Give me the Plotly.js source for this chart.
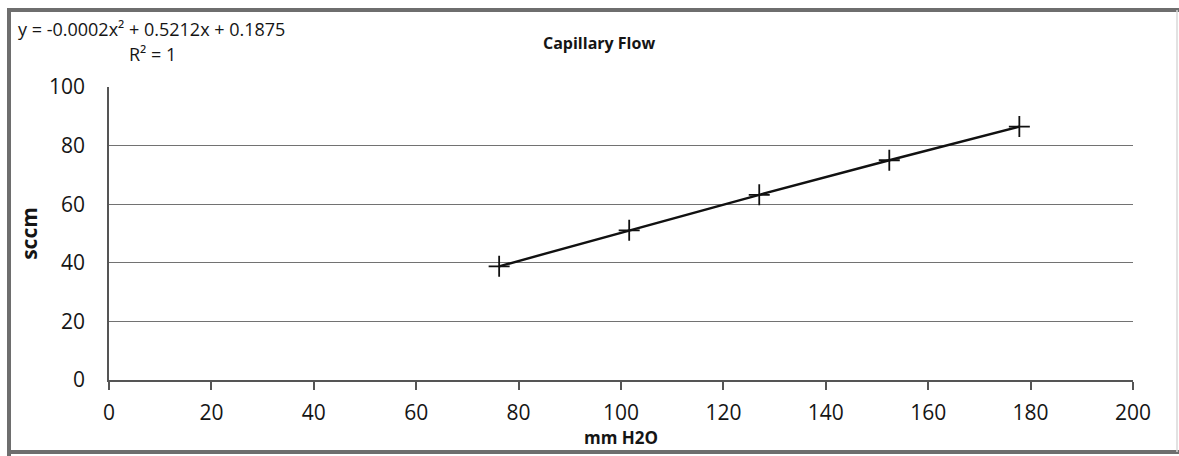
<!DOCTYPE html>
<html>
<head>
<meta charset="utf-8">
<script src="https://cdn.plot.ly/plotly-3.0.1.min.js"></script>
<style>html,body{margin:0;padding:0;background:#fff;}#chart{width:1179px;height:456px;}</style>
</head>
<body>
<div id="chart"></div>
<script>
// Data (mm H2O vs sccm)
const pressureMmH2O = [76.2, 101.6, 127.0, 152.4, 177.8];
const flowSccm = [38.8, 51.1, 63.2, 75.0, 86.5];
const xTickValues = [0, 20, 40, 60, 80, 100, 120, 140, 160, 180, 200];
const yTickValues = [0, 20, 40, 60, 80, 100];
const chartTitle = "Capillary Flow";
const xTitle = "mm H2O";
const yTitle = "sccm";
const equationText = "y = -0.0002x² + 0.5212x + 0.1875";
const rSquaredText = "R² = 1";

const W = 1179, H = 456;
const L = 109, R = 1133, T = 87, B = 380;
const px = v => (v - L) / (R - L);
const py = v => (B - v) / (B - T);

const font = "'Open Sans', 'Noto Sans', sans-serif";
const txt = "#151515";

const trace = {
  x: pressureMmH2O,
  y: flowSccm,
  type: "scatter",
  mode: "lines+markers",
  line: {color: "#111", width: 2.4},
  marker: {symbol: "cross-thin", size: 15, color: "#111", line: {color: "#111", width: 1.8}},
  hoverinfo: "x+y",
  showlegend: false
};

const frameColor = "#6e6e6e";
const layout = {
  width: W, height: H,
  margin: {l: L, r: W - R, t: T, b: H - B, pad: 0},
  paper_bgcolor: "#fff",
  plot_bgcolor: "#fff",
  font: {family: font, color: txt},
  showlegend: false,
  xaxis: {
    range: [0, 200],
    tickvals: xTickValues,
    ticks: "outside", ticklen: 8, tickwidth: 1.5, tickcolor: "#555",
    showline: true, linecolor: "#555", linewidth: 1.5,
    showgrid: false, zeroline: false,
    tickfont: {size: 21, color: txt, family: font},
    ticklabelstandoff: 5,
    title: {text: xTitle, font: {size: 17, color: txt, family: font, weight: "bold"}, standoff: 3},
    fixedrange: true
  },
  yaxis: {
    range: [0, 100],
    tickvals: yTickValues,
    ticks: "",
    showline: true, linecolor: "#555", linewidth: 1.5,
    showgrid: true, gridcolor: "#727272", gridwidth: 1.3,
    zeroline: false,
    tickfont: {size: 21, color: txt, family: font},
    ticklabelstandoff: 18,
    title: {text: yTitle, font: {size: 21, color: txt, family: font, weight: "bold"}, standoff: 6},
    fixedrange: true
  },
  annotations: [
    {text: "<b>" + chartTitle + "</b>", xref: "paper", yref: "paper", x: px(599), y: py(43),
     xanchor: "center", yanchor: "middle", showarrow: false, font: {size: 16, color: txt, family: font}},
    {text: equationText, xref: "paper", yref: "paper", x: px(16), y: py(29),
     xanchor: "left", yanchor: "middle", showarrow: false, font: {size: 18, color: txt, family: font}},
    {text: rSquaredText, xref: "paper", yref: "paper", x: px(152), y: py(54),
     xanchor: "center", yanchor: "middle", showarrow: false, font: {size: 18, color: txt, family: font}}
  ],
  shapes: [
    {type: "line", xref: "paper", yref: "paper", x0: px(7), x1: px(1179), y0: py(10), y1: py(10), line: {color: frameColor, width: 4}},
    {type: "line", xref: "paper", yref: "paper", x0: px(9), x1: px(9), y0: py(8), y1: py(456), line: {color: frameColor, width: 4}},
    {type: "line", xref: "paper", yref: "paper", x0: px(7), x1: px(1179), y0: py(452), y1: py(452), line: {color: frameColor, width: 4}},
    {type: "line", xref: "paper", yref: "paper", x0: px(1177), x1: px(1177), y0: py(10), y1: py(452), line: {color: "#d8d8d8", width: 1.5}}
  ]
};

Plotly.newPlot("chart", [trace], layout, {displayModeBar: false});
</script>
</body>
</html>
